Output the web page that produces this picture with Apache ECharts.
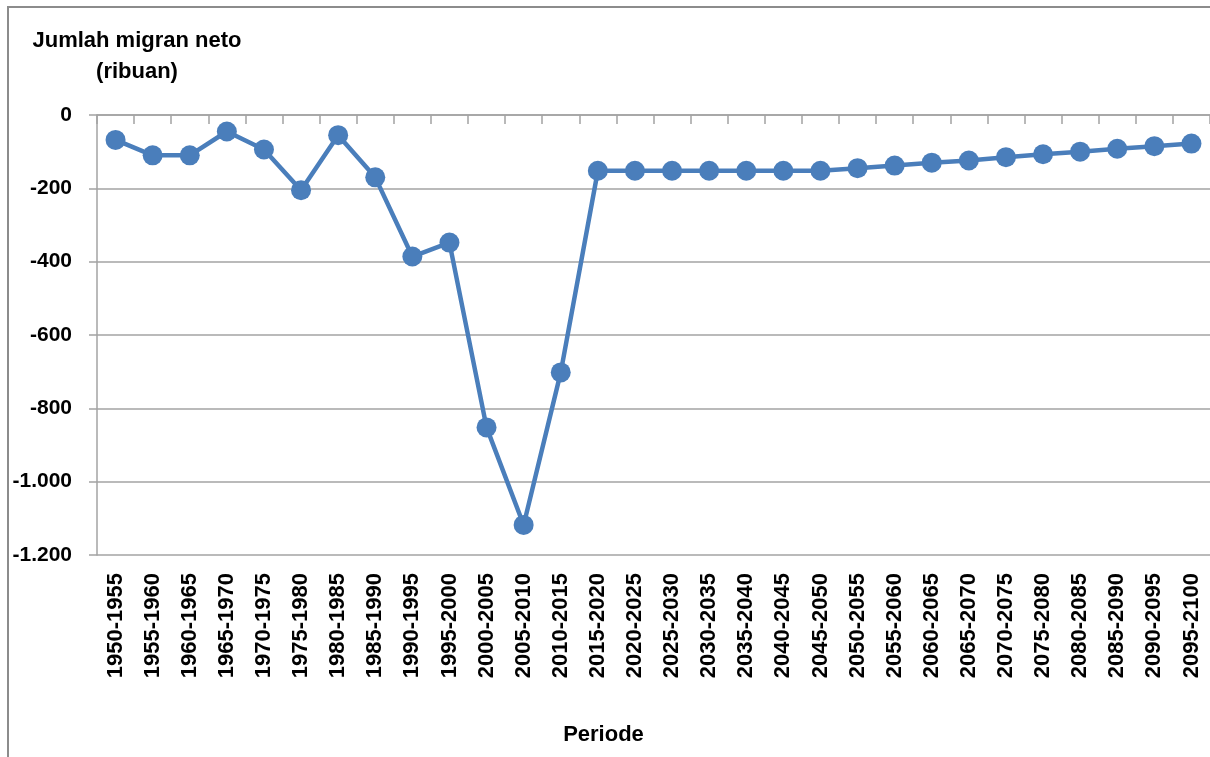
<!DOCTYPE html>
<html>
<head>
<meta charset="utf-8">
<script src="https://cdn.jsdelivr.net/npm/echarts@6/dist/echarts.min.js"></script>
<style>
  html, body { margin: 0; padding: 0; background: #fff; }
  #chart { width: 1210px; height: 757px; }
</style>
</head>
<body>
<div id="chart"></div>
<script>
// periode lima tahunan
const periods = [
  '1950-1955', '1955-1960', '1960-1965', '1965-1970', '1970-1975', '1975-1980',
  '1980-1985', '1985-1990', '1990-1995', '1995-2000', '2000-2005', '2005-2010',
  '2010-2015', '2015-2020', '2020-2025', '2025-2030', '2030-2035', '2035-2040',
  '2040-2045', '2045-2050', '2050-2055', '2055-2060', '2060-2065', '2065-2070',
  '2070-2075', '2075-2080', '2080-2085', '2085-2090', '2090-2095', '2095-2100'
]
// jumlah migran neto (ribuan)
const netMigrants = [
  -68, -110, -110, -45, -94, -205,
  -55, -170, -386, -348, -852, -1118,
  -702, -152, -152, -152, -152, -152,
  -152, -152, -145, -138, -130, -124,
  -115, -107, -100, -92, -85, -78
]
const yMin = -1200
const yMax = 0
const yStep = 200

const FONT = '"Liberation Sans", Arial, sans-serif'
const GREY = '#a3a3a3'
const BLUE = '#4a7ebb'

const chart = echarts.init( document.getElementById( 'chart' ) )

chart.setOption( {
  animation : false,
  backgroundColor : '#ffffff',
  grid : {
    left : 97,
    right : 0,
    top : 115,
    bottom : 202,
    containLabel : false
  },
  graphic : [
    {
      type : 'rect',
      z : -1,
      shape : { x : 8, y : 7, width : 1300, height : 800 },
      style : { fill : 'none', stroke : '#8c8c8c', lineWidth : 2 }
    },
    {
      type : 'text',
      x : 137,
      y : 25,
      style : {
        text : 'Jumlah migran neto\n(ribuan)',
        fill : '#000',
        fontSize : 22,
        fontWeight : 'bold',
        fontFamily : FONT,
        lineHeight : 31,
        align : 'center',
        verticalAlign : 'top'
      }
    }
  ],
  xAxis : [
    {
      type : 'category',
      position : 'top',
      data : periods,
      boundaryGap : true,
      axisLine : { onZero : false, lineStyle : { color : GREY, width : 1.5 } },
      axisTick : { show : true, inside : true, interval : 0, length : 9, lineStyle : { color : GREY, width : 1.5 } },
      axisLabel : { show : false, interval : 0 },
      splitLine : { show : false }
    },
    {
      type : 'category',
      position : 'bottom',
      data : periods,
      boundaryGap : true,
      axisLine : { show : false, onZero : false },
      axisTick : { show : false },
      axisLabel : {
        rotate : 90,
        margin : 18,
        interval : 0,
        color : '#000',
        fontSize : 22,
        fontWeight : 'bold',
        fontFamily : FONT
      },
      name : 'Periode',
      nameLocation : 'middle',
      nameGap : 169,
      nameTextStyle : {
        color : '#000',
        fontSize : 22,
        fontWeight : 'bold',
        fontFamily : FONT,
        padding : [0, 100, 0, 0]
      },
      splitLine : { show : false }
    }
  ],
  yAxis : {
    type : 'value',
    min : yMin,
    max : yMax,
    interval : yStep,
    axisLine : { show : true, lineStyle : { color : GREY, width : 1.5 } },
    axisTick : { show : true, length : 8, lineStyle : { color : GREY, width : 1.5 } },
    axisLabel : {
      margin : 25,
      color : '#000',
      fontSize : 21,
      fontWeight : 'bold',
      fontFamily : FONT,
      formatter : v => String( v ).replace( /\B(?=(\d{3})+(?!\d))/g, '.' )
    },
    splitLine : { show : true, lineStyle : { color : GREY, width : 1.5 } }
  },
  series : [
    {
      name : 'Jumlah migran neto',
      type : 'line',
      xAxisIndex : 1,
      data : netMigrants,
      symbol : 'circle',
      symbolSize : 20,
      lineStyle : { color : BLUE, width : 4.5 },
      itemStyle : { color : BLUE }
    }
  ]
} )
</script>
</body>
</html>
